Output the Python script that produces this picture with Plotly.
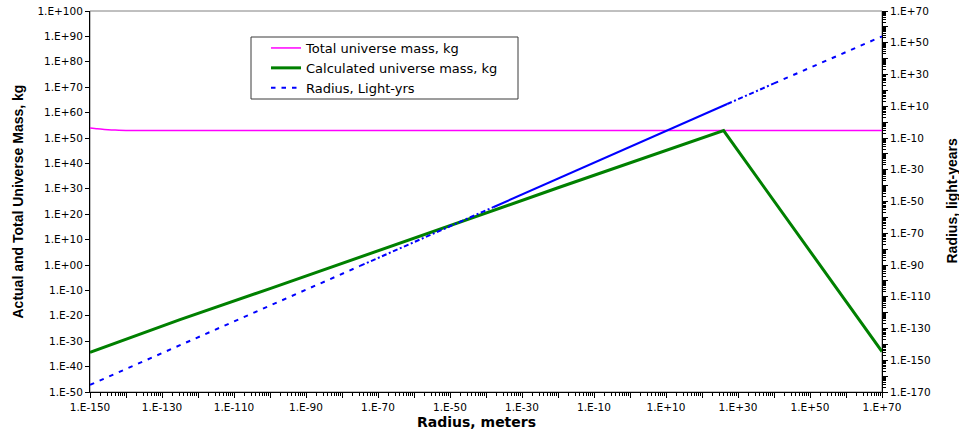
import numpy as np
import plotly.graph_objects as go

# ---------------- data (log10 exponents) ----------------
# Total universe mass, kg (left axis)
total_x_log = [-150, -148, -146, -144, -142, -140, -120, -60, 0, 70]
total_y_log = [53.95, 53.6, 53.35, 53.17, 53.06, 53.0, 53.0, 53.0, 53.0, 53.0]

# Calculated universe mass, kg (left axis)
calc_x_log = [-150, -140, -125, -100, -60, -20, 26, 70]
calc_y_log = [-34.4, -29.2, -21.5, -9.3, 10.7, 30.4, 52.9, -34.1]

# Radius, light-years (right axis); segments drawn with different dash density
radius_x_log = [-150, -75, -38, 27, 40, 70]
radius_ly_log = [-165.5, -90.6, -53.6, 11.4, 24.4, 54.0]
radius_seg_dash = ["4.5px,6px", "5px,2.5px,2px,2.5px", "solid", "5px,2.5px,2px,2.5px", "4.5px,6px"]

# axis tick exponents
x_major_exp = list(range(-150, 71, 10))
x_label_exp = list(range(-150, 71, 20))
left_tick_exp = list(range(-50, 101, 10))
right_major_exp = list(range(-170, 71, 10))
right_label_exp = list(range(-170, 71, 20))

series_names = ["Total universe mass, kg", "Calculated universe mass, kg", "Radius, Light-yrs"]


def lbl(e):
    return "1.E" + ("+" if e >= 0 else "-") + "%02d" % abs(e)


def pw(v):
    return [10.0 ** x for x in v]


def minor_vals(start, stop):
    vals = []
    for e in range(start, stop, 10):
        for j in range(2, 10):
            vals.append(10.0 ** (e + 10 * np.log10(j)))
    return vals


TICKFONT = dict(family="DejaVu Sans", size=10.5, color="black")

fig = go.Figure()

fig.add_trace(go.Scatter(
    x=pw(total_x_log), y=pw(total_y_log), mode="lines", name=series_names[0],
    line=dict(color="#FF00FF", width=1.5, shape="spline", smoothing=0.6),
    xaxis="x", yaxis="y"))

fig.add_trace(go.Scatter(
    x=pw(calc_x_log), y=pw(calc_y_log), mode="lines", name=series_names[1],
    line=dict(color="#008000", width=3),
    xaxis="x", yaxis="y"))

for i in range(len(radius_x_log) - 1):
    fig.add_trace(go.Scatter(
        x=pw(radius_x_log[i:i + 2]), y=pw(radius_ly_log[i:i + 2]), mode="lines",
        name=series_names[2], showlegend=(i == 0),
        line=dict(color="#0000FF", width=2, dash=radius_seg_dash[i]),
        xaxis="x", yaxis="y2"))

fig.update_layout(
    width=959, height=435,
    margin=dict(l=90, r=77, t=11, b=43, autoexpand=False),
    paper_bgcolor="white", plot_bgcolor="white",
    showlegend=True,
    legend=dict(x=(266 - 90) / 792, y=(392 - 33) / 381, xanchor="left", yanchor="top",
                bgcolor="rgba(0,0,0,0)", borderwidth=0, tracegroupgap=0,
                font=dict(family="DejaVu Sans", size=13, color="black")),
    xaxis=dict(
        type="log", range=[-150, 70], showgrid=False, zeroline=False, automargin=False,
        showline=True, linecolor="black", linewidth=1,
        ticks="outside", ticklen=5, tickcolor="black", tickwidth=1,
        tickmode="array", tickvals=pw(x_major_exp),
        ticktext=[lbl(e) if e in x_label_exp else "" for e in x_major_exp],
        tickfont=TICKFONT,
        minor=dict(tickmode="array", tickvals=minor_vals(-150, 70), ticks="outside",
                   ticklen=3, tickcolor="black", showgrid=False),
    ),
    yaxis=dict(
        type="log", range=[-50, 100], showgrid=False, zeroline=False, automargin=False,
        showline=True, linecolor="black", linewidth=1,
        ticks="outside", ticklen=4, tickcolor="black",
        tickmode="array", tickvals=pw(left_tick_exp),
        ticktext=[lbl(e) for e in left_tick_exp],
        tickfont=TICKFONT,
    ),
    yaxis2=dict(
        type="log", range=[-170, 70], overlaying="y", side="right", automargin=False,
        showgrid=False, zeroline=False,
        showline=True, linecolor="black", linewidth=1,
        ticks="outside", ticklen=5, tickcolor="black",
        tickmode="array", tickvals=pw(right_major_exp),
        ticktext=[lbl(e) if e in right_label_exp else "" for e in right_major_exp],
        tickfont=TICKFONT,
        minor=dict(tickmode="array", tickvals=minor_vals(-170, 70), ticks="outside",
                   ticklen=3, tickcolor="black", showgrid=False),
    ),
    shapes=[
        dict(type="rect", xref="paper", yref="paper", x0=0, x1=1, y0=0, y1=1,
             line=dict(color="#808080", width=1), layer="below"),
        dict(type="rect", xref="paper", yref="paper",
             x0=(251 - 90) / 792, x1=(518 - 90) / 792,
             y0=(392 - 99) / 381, y1=(392 - 37) / 381,
             line=dict(color="#3a3a3a", width=1), fillcolor="white", layer="below"),
    ],
    annotations=[
        dict(text="<b>Actual and Total Universe Mass, kg</b>", xref="paper", yref="paper",
             x=(17 - 90) / 792, y=0.5, textangle=-90, showarrow=False,
             xanchor="center", yanchor="middle",
             font=dict(family="Liberation Sans", size=14, color="black")),
        dict(text="<b>Radius, light-years</b>", xref="paper", yref="paper",
             x=(951 - 90) / 792, y=0.5, textangle=-90, showarrow=False,
             xanchor="center", yanchor="middle",
             font=dict(family="Liberation Sans", size=14, color="black")),
        dict(text="<b>Radius, meters</b>", xref="paper", yref="paper",
             x=(476 - 90) / 792, y=(392 - 422) / 381, showarrow=False,
             xanchor="center", yanchor="middle",
             font=dict(family="DejaVu Sans", size=14, color="black")),
    ],
)

fig.write_html("out.html", config={"displayModeBar": False},
               post_script="document.body.style.margin='0';document.body.style.padding='0';")
